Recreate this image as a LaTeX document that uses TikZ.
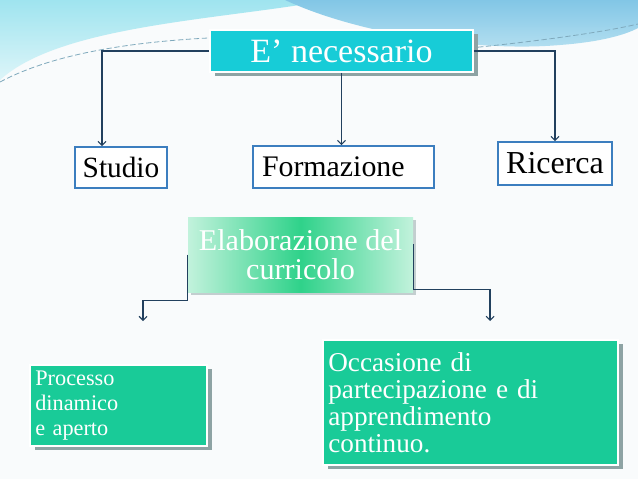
\documentclass[tikz,border=0pt]{standalone}
\usepackage{fontspec}
\setmainfont{Liberation Serif}
\usetikzlibrary{arrows.meta,shadows}

\definecolor{necfill}{HTML}{17CCD7}
\definecolor{greenfill}{HTML}{19CB98}
\definecolor{elabgreen}{HTML}{2FD28A}
\definecolor{elabpale}{HTML}{C2F2DC}
\definecolor{edgeblue}{HTML}{3C7EBF}
\definecolor{linenavy}{HTML}{22405E}
\definecolor{shadowgray}{HTML}{8EA3A4}
\definecolor{pagebg}{HTML}{F9FBFC}
\definecolor{cyantop}{HTML}{9FE4EF}
\definecolor{cyanlow}{HTML}{DDF5F9}
\definecolor{bluetop}{HTML}{82C6E6}
\definecolor{bluelow}{HTML}{B7E1F1}
\definecolor{dashblue}{HTML}{7FA9BC}

\begin{document}
\begin{tikzpicture}[x=0.75pt, y=-0.75pt, >={Straight Barb[length=3pt,width=6pt]},
    conn/.style={draw=linenavy, line width=0.8pt},
    boxshadow/.style={drop shadow={shadow xshift=3.5pt, shadow yshift=-3pt, fill=shadowgray, opacity=1}},
    tealbox/.style={boxshadow, draw=white, line width=1.2pt, fill=necfill, text=white, inner sep=4pt},
    greenbox/.style={boxshadow, draw=white, line width=1pt, fill=greenfill, text=white, align=left, inner sep=4pt},
    plainbox/.style={draw=edgeblue, line width=1.4pt, fill=white, text=black, inner sep=4pt}]

    % page and top decoration
    \useasboundingbox (0,0) rectangle (638,479);
    \fill[pagebg] (0,0) rectangle (638,479);
    \shade[top color=cyantop, bottom color=cyanlow] (0,0) -- (330,0) .. controls (220,20) and (60,25) .. (0,80) -- cycle;
    \shade[top color=bluetop, bottom color=bluelow] (285,0) .. controls (360,35) and (480,52) .. (560,45) .. controls (600,42) and (625,35) .. (638,28) -- (638,0) -- cycle;
    \draw[dashblue, line width=0.6pt, dash pattern=on 4pt off 2pt] (0,82) .. controls (60,50) and (150,40) .. (230,37);
    \draw[dashblue, line width=0.6pt, dash pattern=on 4pt off 2pt] (470,48) .. controls (530,42) and (600,33) .. (638,24);

    % boxes
    \node[tealbox, minimum width=197.25pt, minimum height=31.5pt, font=\fontsize{25.5}{28}\selectfont] (nec) at (341.5,51) {E' necessario};
    \node[plainbox, minimum width=69pt, minimum height=30.75pt, font=\fontsize{22}{24}\selectfont] (studio) at (121,167.5) {Studio};
    \node[plainbox, minimum width=135.75pt, minimum height=31.5pt, inner xsep=6.75pt, text width=122.25pt, align=left, font=\fontsize{22.4}{24}\selectfont] (form) at (343.5,167) {Formazione};
    \node[plainbox, minimum width=85.5pt, minimum height=32.25pt, font=\fontsize{24}{26}\selectfont] (ric) at (555,163.5) {Ricerca};
    \node[drop shadow={shadow xshift=2pt, shadow yshift=-2pt, fill=shadowgray, opacity=0.5}, shading=axis, left color=elabpale, right color=elabpale, middle color=elabgreen, text=white, align=center, minimum width=168.75pt, minimum height=56.25pt, font=\fontsize{22.6}{21.5}\selectfont] (elab) at (300.5,254.5) {Elaborazione del\\curricolo};
    \node[greenbox, minimum width=132.75pt, minimum height=60.75pt, text width=124.75pt, font=\fontsize{16.7}{18.8}\selectfont] (proc) at (118.5,405.5) {Processo\\dinamico\\e aperto};
    \node[greenbox, minimum width=221.25pt, minimum height=93.75pt, text width=213.25pt, font=\fontsize{20.4}{20.3}\selectfont] (occ) at (470.5,402.5) {Occasione di\\partecipazione e di\\apprendimento\\continuo.};

    % connectors
    \coordinate (leftTip) at (143,321);
    \coordinate (rightTip) at (490,321);
    \draw[conn,->] (nec.west) -| ([xshift=-14.25pt]studio.north);
    \draw[conn,->] (nec.south) -- (nec.south |- form.north);
    \draw[conn,->] (nec.east) -| (ric.north);
    \draw[conn,->] (elab.west) -- ++(0,46) -| (leftTip);
    \draw[conn,->] ([yshift=8pt]elab.east) -- ++(0,46) -| (rightTip);
\end{tikzpicture}
\end{document}
